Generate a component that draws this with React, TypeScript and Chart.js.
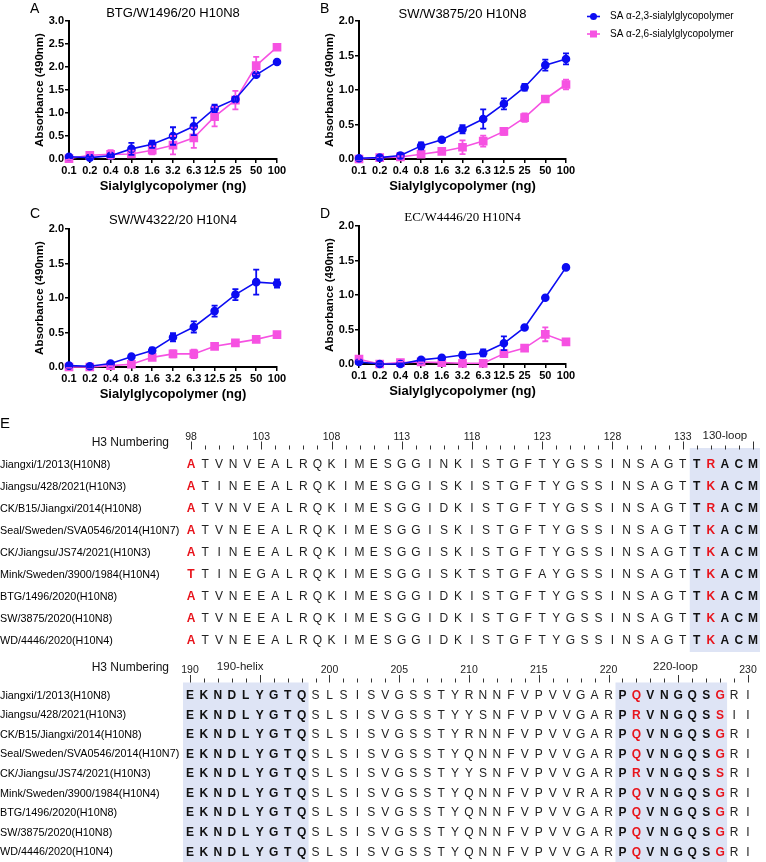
import React, { useEffect, useRef } from 'react';
import Chart from 'chart.js/auto';

const SANS = "'Liberation Sans', Arial, Helvetica, sans-serif";
const SERIF = "'Liberation Serif', 'Times New Roman', Times, serif";
const BLUE = '#0c0cf2';
const PINK = '#f652e2';
const RED = '#e8141c';
const SHADE = '#dee4f5';

// ---------- Panels A-D data ----------
const concentrations = ['0.1', '0.2', '0.4', '0.8', '1.6', '3.2', '6.3', '12.5', '25', '50', '100'];
const seriesLabels = ['SA α-2,3-sialylglycopolymer', 'SA α-2,6-sialylglycopolymer'];

const btgMean23 = [0.05, 0.03, 0.07, 0.22, 0.32, 0.5, 0.71, 1.1, 1.3, 1.83, 2.11];
const btgErr23 = [0.02, 0.02, 0.03, 0.13, 0.08, 0.19, 0.19, 0.08, 0.05, 0.03, 0.03];
const btgMean26 = [0.01, 0.08, 0.1, 0.11, 0.19, 0.3, 0.46, 0.92, 1.28, 2.03, 2.43];
const btgErr26 = [0.03, 0.05, 0.09, 0.07, 0.09, 0.2, 0.22, 0.21, 0.2, 0.19, 0.03];

const sw3875Mean23 = [0.01, 0.02, 0.05, 0.19, 0.28, 0.43, 0.58, 0.8, 1.04, 1.36, 1.45];
const sw3875Err23 = [0.01, 0.02, 0.04, 0.05, 0.02, 0.06, 0.14, 0.08, 0.05, 0.08, 0.08];
const sw3875Mean26 = [0.0, 0.02, 0.03, 0.07, 0.11, 0.17, 0.26, 0.4, 0.6, 0.87, 1.08];
const sw3875Err26 = [0.01, 0.01, 0.01, 0.02, 0.02, 0.1, 0.08, 0.05, 0.06, 0.03, 0.07];

const sw4322Mean23 = [0.02, 0.01, 0.05, 0.15, 0.24, 0.43, 0.58, 0.81, 1.05, 1.23, 1.21];
const sw4322Err23 = [0.01, 0.01, 0.01, 0.02, 0.04, 0.06, 0.08, 0.08, 0.08, 0.18, 0.06];
const sw4322Mean26 = [0.0, 0.0, 0.02, 0.04, 0.14, 0.19, 0.19, 0.3, 0.35, 0.4, 0.47];
const sw4322Err26 = [0.01, 0.01, 0.01, 0.01, 0.02, 0.05, 0.06, 0.04, 0.02, 0.03, 0.04];

const ec4446Mean23 = [0.03, 0.0, 0.0, 0.06, 0.09, 0.13, 0.16, 0.3, 0.53, 0.96, 1.4];
const ec4446Err23 = [0.01, 0.01, 0.01, 0.01, 0.01, 0.04, 0.05, 0.1, 0.01, 0.01, 0.01];
const ec4446Mean26 = [0.07, 0.0, 0.02, 0.03, 0.02, 0.01, 0.01, 0.15, 0.23, 0.43, 0.32];
const ec4446Err26 = [0.02, 0.01, 0.01, 0.01, 0.01, 0.01, 0.01, 0.02, 0.04, 0.1, 0.04];

// ---------- Panel E data ----------
const strainNames = [
  'Jiangxi/1/2013(H10N8)',
  'Jiangsu/428/2021(H10N3)',
  'CK/B15/Jiangxi/2014(H10N8)',
  'Seal/Sweden/SVA0546/2014(H10N7)',
  'CK/Jiangsu/JS74/2021(H10N3)',
  'Mink/Sweden/3900/1984(H10N4)',
  'BTG/1496/2020(H10N8)',
  'SW/3875/2020(H10N8)',
  'WD/4446/2020(H10N4)',
];
const seq98to138 = [
  'ATVNVEALRQKIMESGGINKISTGFTYGSSINSAGTTRACM',
  'ATINEEALRQKIMESGGISKISTGFTYGSSINSAGTTKACM',
  'ATVNVEALRQKIMESGGIDKISTGFTYGSSINSAGTTRACM',
  'ATVNEEALRQKIMESGGISKISTGFTYGSSINSAGTTKACM',
  'ATINEEALRQKIMESGGISKISTGFTYGSSINSAGTTKACM',
  'TTINEGALRQKIMESGGISKTSTGFAYGSSINSAGTTKACM',
  'ATVNEEALRQKIMESGGIDKISTGFTYGSSINSAGTTKACM',
  'ATVNEEALRQKIMESGGIDKISTGFTYGSSINSAGTTKACM',
  'ATVNEEALRQKIMESGGIDKISTGFTYGSSINSAGTTKACM',
];
const seq190to230 = [
  'EKNDLYGTQSLSISVGSSTYRNNFVPVVGARPQVNGQSGRI',
  'EKNDLYGTQSLSISVGSSTYYSNFVPVVGARPRVNGQSSII',
  'EKNDLYGTQSLSISVGSSTYRNNFVPVVGARPQVNGQSGRI',
  'EKNDLYGTQSLSISVGSSTYQNNFVPVVGARPQVNGQSGRI',
  'EKNDLYGTQSLSISVGSSTYYSNFVPVVGARPRVNGQSSRI',
  'EKNDLYGTQSLSISVGSSTYQNNFVPVVRARPQVNGQSGRI',
  'EKNDLYGTQSLSISVGSSTYQNNFVPVVGARPQVNGQSGRI',
  'EKNDLYGTQSLSISVGSSTYQNNFVPVVGARPQVNGQSGRI',
  'EKNDLYGTQSLSISVGSSTYQNNFVPVVGARPQVNGQSGRI',
];
const topNumbers = [98, 103, 108, 113, 118, 123, 128, 133];
const bottomNumbers = [190, 200, 205, 210, 215, 220, 230];
const topRed = [98, 135];
const topBold = [134, 136, 137, 138];
const bottomRed = [222, 228];
const bottomBold = [190, 191, 192, 193, 194, 195, 196, 197, 198, 221, 223, 224, 225, 226, 227];
const topShaded = [[134, 138]];
const bottomShaded = [[190, 198], [221, 228]];
const topRegions = [{ text: '130-loop', at: 136 }];
const bottomRegions = [{ text: '190-helix', at: 193.6 }, { text: '220-loop', at: 224.8 }];

// ---------- plugins ----------
const errorBarPlugin = {
  id: 'errorBars',
  afterDatasetsDraw(chart: any) {
    const { ctx } = chart;
    const ys = chart.scales.y;
    const n = chart.data.datasets.length;
    for (let i = n - 1; i >= 0; i--) {
      const ds = chart.data.datasets[i];
      const errs = ds.errorBars;
      if (!errs) continue;
      const meta = chart.getDatasetMeta(i);
      ctx.save();
      ctx.strokeStyle = ds.borderColor;
      ctx.lineWidth = 1.8;
      meta.data.forEach((pt: any, j: number) => {
        const v = ds.data[j];
        const e = errs[j];
        if (!e) return;
        const y0 = ys.getPixelForValue(v + e);
        const y1 = ys.getPixelForValue(v - e);
        const x = pt.x;
        ctx.beginPath();
        ctx.moveTo(x, y0); ctx.lineTo(x, y1);
        ctx.moveTo(x - 3, y0); ctx.lineTo(x + 3, y0);
        ctx.moveTo(x - 3, y1); ctx.lineTo(x + 3, y1);
        ctx.stroke();
      });
      ctx.restore();
    }
  },
};

const panelLetterPlugin = {
  id: 'panelLetter',
  afterDraw(chart: any, _a: any, o: any) {
    if (!o || !o.text) return;
    const { ctx } = chart;
    ctx.save();
    ctx.fillStyle = '#000';
    ctx.font = `${o.size}px ${SANS}`;
    ctx.textAlign = 'left';
    ctx.textBaseline = 'alphabetic';
    ctx.fillText(o.text, o.x, o.y);
    ctx.restore();
  },
};

const sideLegendPlugin = {
  id: 'sideLegend',
  afterDraw(chart: any, _a: any, o: any) {
    if (!o || !o.display) return;
    const { ctx, chartArea } = chart;
    chart.data.datasets.forEach((ds: any, i: number) => {
      const x0 = chartArea.right + o.x;
      const y = o.y + i * o.gap;
      ctx.save();
      ctx.strokeStyle = ds.borderColor;
      ctx.fillStyle = ds.backgroundColor;
      ctx.lineWidth = 1.6;
      ctx.beginPath();
      ctx.moveTo(x0, y); ctx.lineTo(x0 + o.lineLen, y);
      ctx.stroke();
      const cx = x0 + o.lineLen / 2;
      if (ds.pointStyle === 'rect') {
        ctx.fillRect(cx - 3.5, y - 3.5, 7, 7);
      } else {
        ctx.beginPath();
        ctx.arc(cx, y, 3.5, 0, Math.PI * 2);
        ctx.fill();
      }
      ctx.fillStyle = '#000';
      ctx.font = `${o.fontSize}px ${SANS}`;
      ctx.textAlign = 'left';
      ctx.textBaseline = 'middle';
      ctx.fillText(ds.label, x0 + o.lineLen + o.textGap, y);
      ctx.restore();
    });
  },
};

const alignmentPlugin = {
  id: 'alignment',
  beforeDatasetsDraw(chart: any, _a: any, o: any) {
    const { ctx, chartArea: ca } = chart;
    const xs = chart.scales.x;
    ctx.save();
    ctx.fillStyle = SHADE;
    for (const s of o.shaded) {
      const x0 = xs.getPixelForValue(s[0] - 0.5);
      const x1 = xs.getPixelForValue(s[1] + 0.5);
      const yTop = ca.top + o.shadeTop;
      ctx.fillRect(x0, yTop, x1 - x0, ca.bottom - yTop);
    }
    ctx.strokeStyle = '#333';
    ctx.lineWidth = 1;
    for (let r = o.start; r <= o.end; r++) {
      const x = Math.round(xs.getPixelForValue(r)) + 0.5;
      const major = (r - o.start) % 5 === 0;
      ctx.beginPath();
      ctx.moveTo(x, ca.top + (major ? o.majorTop : o.minorTop));
      ctx.lineTo(x, ca.top + o.tickBottom);
      ctx.stroke();
    }
    ctx.fillStyle = '#222';
    ctx.textAlign = 'center';
    ctx.textBaseline = 'middle';
    ctx.font = `10.5px ${SANS}`;
    for (const n of o.numbers) ctx.fillText(String(n), xs.getPixelForValue(n), ca.top + o.numberY);
    ctx.font = `11.5px ${SANS}`;
    for (const r of o.regions) ctx.fillText(r.text, xs.getPixelForValue(r.at), ca.top + o.regionY);
    ctx.font = `12px ${SANS}`;
    ctx.textAlign = 'right';
    ctx.fillStyle = '#111';
    ctx.fillText(o.heading, o.headingRight, ca.top + o.headingY);
    if (o.letter) {
      ctx.textAlign = 'left';
      ctx.textBaseline = 'alphabetic';
      ctx.font = `15px ${SANS}`;
      ctx.fillStyle = '#000';
      ctx.fillText(o.letter, o.letterX, o.letterY);
    }
    ctx.restore();
  },
  afterDatasetsDraw(chart: any, _a: any, o: any) {
    const { ctx } = chart;
    ctx.save();
    ctx.textAlign = 'center';
    ctx.textBaseline = 'middle';
    chart.data.datasets.forEach((ds: any, i: number) => {
      const meta = chart.getDatasetMeta(i);
      meta.data.forEach((el: any, j: number) => {
        const d = ds.data[j];
        const red = o.red.indexOf(d.x) >= 0;
        const bold = red || o.bold.indexOf(d.x) >= 0;
        ctx.fillStyle = red ? RED : bold ? '#111' : '#222';
        ctx.font = `${bold ? 'bold ' : ''}12px ${SANS}`;
        ctx.fillText(d.aa, el.x, el.y);
      });
    });
    ctx.restore();
  },
};

// ---------- configs ----------
type PanelSpec = {
  letter: string; title: string; titleFont: string; left: number; top: number; width: number;
  areaTop: number; titleCenter: number; plotRight: number; yMax: number;
  m23: number[]; e23: number[]; m26: number[]; e26: number[]; legend?: boolean;
};

const PLOT_H = 138;
const XAXIS_H = 46;

function lineConfig(p: PanelSpec): any {
  const tPadTop = p.titleCenter - 6.5;
  return {
    type: 'line',
    data: {
      labels: concentrations,
      datasets: [
        {
          label: seriesLabels[0], data: p.m23, errorBars: p.e23,
          borderColor: BLUE, backgroundColor: BLUE, pointBorderColor: BLUE, pointBackgroundColor: BLUE,
          pointStyle: 'circle', pointRadius: 3.5, borderWidth: 1.6, tension: 0, clip: false,
        },
        {
          label: seriesLabels[1], data: p.m26, errorBars: p.e26,
          borderColor: PINK, backgroundColor: PINK, pointBorderColor: PINK, pointBackgroundColor: PINK,
          pointStyle: 'rect', pointRadius: 5, borderWidth: 1.6, tension: 0, clip: false,
        },
      ],
    },
    options: {
      responsive: false,
      animation: false,
      events: [],
      layout: { padding: { left: 0, top: 0, right: p.width - p.plotRight, bottom: 0 } },
      plugins: {
        legend: { display: false },
        tooltip: { enabled: false },
        title: {
          display: true, text: p.title, fullSize: false, color: '#000',
          font: { family: p.titleFont, size: 13, weight: 'normal', lineHeight: 1 },
          padding: { top: tPadTop, bottom: p.areaTop - 13 - tPadTop },
        },
        panelLetter: { text: p.letter, x: 30, y: 12.7, size: 14 },
        sideLegend: p.legend ? { display: true, x: 21, y: 16.5, gap: 17.5, lineLen: 13, textGap: 10, fontSize: 10 } : { display: false },
      },
      scales: {
        x: {
          type: 'category', offset: false,
          grid: { display: true, drawOnChartArea: false, drawTicks: true, tickLength: 4, color: '#000', lineWidth: 1.5, offset: false },
          border: { display: true, color: '#000', width: 2 },
          ticks: { autoSkip: false, maxRotation: 0, minRotation: 0, padding: 1, color: '#000', font: { family: SANS, size: 11, weight: 'bold' } },
          title: { display: true, text: 'Sialylglycopolymer (ng)', color: '#000', font: { family: SANS, size: 13, weight: 'bold' }, padding: { top: 0, bottom: 11 } },
          afterFit: (s: any) => { s.height = XAXIS_H; },
        },
        y: {
          type: 'linear', min: 0, max: p.yMax,
          grid: { display: true, drawOnChartArea: false, drawTicks: true, tickLength: 4, color: '#000', lineWidth: 1.5 },
          border: { display: true, color: '#000', width: 2 },
          ticks: { stepSize: 0.5, padding: 1, color: '#000', font: { family: SANS, size: 11, weight: 'bold' }, callback: (v: any) => Number(v).toFixed(1) },
          title: { display: true, text: 'Absorbance (490nm)', color: '#000', font: { family: SANS, size: 11.5, weight: 'bold' }, padding: { top: 33, bottom: 0 } },
          afterFit: (s: any) => { s.width = 69; },
        },
      },
    },
    plugins: [errorBarPlugin, panelLetterPlugin, sideLegendPlugin],
  };
}

type AlignSpec = {
  start: number; end: number; seqs: string[]; padTop: number; padRight: number; axisWidth: number;
  header: any;
};

function alignConfig(s: AlignSpec): any {
  const datasets = strainNames.map((name, i) => ({
    label: name,
    data: s.seqs[i].split('').map((aa, j) => ({ x: s.start + j, y: name, aa })),
    pointRadius: 0,
    showLine: false,
    clip: false,
  }));
  return {
    type: 'scatter',
    data: { datasets },
    options: {
      responsive: false,
      animation: false,
      events: [],
      layout: { padding: { left: 0, top: s.padTop, right: s.padRight, bottom: 0 } },
      plugins: {
        legend: { display: false },
        tooltip: { enabled: false },
        alignment: { start: s.start, end: s.end, ...s.header },
      },
      scales: {
        x: { type: 'linear', min: s.start - 0.5, max: s.end + 0.5, display: false },
        y: {
          type: 'category', labels: strainNames, offset: true,
          grid: { display: false }, border: { display: false },
          ticks: { crossAlign: 'far', autoSkip: false, padding: 0, color: '#000', font: { family: SANS, size: 10.8 } },
          afterFit: (sc: any) => {
            sc.width = s.axisWidth;
            sc.paddingTop = 0;
            sc.paddingBottom = 0;
          },
        },
      },
    },
    plugins: [alignmentPlugin],
  };
}

function ChartCanvas({ left, top, width, height, make }: { left: number; top: number; width: number; height: number; make: () => any }) {
  const ref = useRef<HTMLCanvasElement | null>(null);
  useEffect(() => {
    if (!ref.current) return;
    const chart = new Chart(ref.current, make());
    return () => chart.destroy();
  }, []);
  return (
    <canvas
      ref={ref}
      width={width}
      height={height}
      style={{ position: 'absolute', left, top, width, height, display: 'block' }}
    />
  );
}

const panels: PanelSpec[] = [
  { letter: 'A', title: 'BTG/W1496/20 H10N8', titleFont: SANS, left: 0, top: 0, width: 300, areaTop: 21, titleCenter: 13.5, plotRight: 277, yMax: 3, m23: btgMean23, e23: btgErr23, m26: btgMean26, e26: btgErr26 },
  { letter: 'B', title: 'SW/W3875/20 H10N8', titleFont: SANS, left: 290, top: 0, width: 476, areaTop: 21, titleCenter: 14, plotRight: 276, yMax: 2, m23: sw3875Mean23, e23: sw3875Err23, m26: sw3875Mean26, e26: sw3875Err26, legend: true },
  { letter: 'C', title: 'SW/W4322/20 H10N4', titleFont: SANS, left: 0, top: 205, width: 300, areaTop: 24, titleCenter: 15, plotRight: 277, yMax: 2, m23: sw4322Mean23, e23: sw4322Err23, m26: sw4322Mean26, e26: sw4322Err26 },
  { letter: 'D', title: 'EC/W4446/20 H10N4', titleFont: SERIF, left: 290, top: 205, width: 300, areaTop: 21, titleCenter: 13, plotRight: 276, yMax: 2, m23: ec4446Mean23, e23: ec4446Err23, m26: ec4446Mean26, e26: ec4446Err26 },
];

const topAlign: AlignSpec = {
  start: 98, end: 138, seqs: seq98to138, padTop: 39, padRight: 6, axisWidth: 184,
  header: {
    shaded: topShaded, red: topRed, bold: topBold, numbers: topNumbers, regions: topRegions,
    shadeTop: -6, majorTop: -12.5, minorTop: -8.5, tickBottom: -4.5, numberY: -16.5, regionY: -18.5,
    heading: 'H3 Numbering', headingRight: 169, headingY: -11,
    letter: 'E', letterX: 0, letterY: 13,
  },
};
const bottomAlign: AlignSpec = {
  start: 190, end: 230, seqs: seq190to230, padTop: 34, padRight: 11, axisWidth: 183,
  header: {
    shaded: bottomShaded, red: bottomRed, bold: bottomBold, numbers: bottomNumbers, regions: bottomRegions,
    shadeTop: -3.5, majorTop: -11, minorTop: -7.5, tickBottom: -3.5, numberY: -16, regionY: -19.5,
    heading: 'H3 Numbering', headingRight: 169, headingY: -18.5,
    letter: '', letterX: 0, letterY: 0,
  },
};

export default function App() {
  return (
    <div style={{ position: 'relative', width: 766, height: 862, overflow: 'hidden', background: '#fff' }}>
      <style>{'html,body{margin:0;padding:0;overflow:hidden;background:#fff;}'}</style>
      {panels.map((p) => (
        <ChartCanvas
          key={p.letter}
          left={p.left}
          top={p.top}
          width={p.width}
          height={p.areaTop + PLOT_H + XAXIS_H}
          make={() => lineConfig(p)}
        />
      ))}
      <ChartCanvas left={0} top={415} width={766} height={237} make={() => alignConfig(topAlign)} />
      <ChartCanvas left={0} top={652} width={766} height={210} make={() => alignConfig(bottomAlign)} />
    </div>
  );
}
